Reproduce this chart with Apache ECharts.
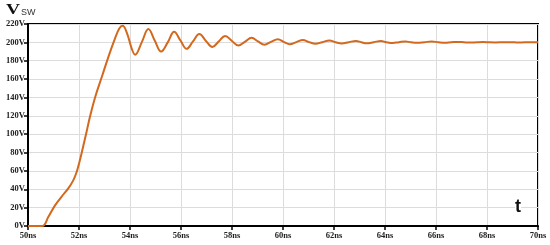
<!DOCTYPE html>
<html>
<head>
<meta charset="utf-8">
<script src="https://cdn.jsdelivr.net/npm/echarts@6/dist/echarts.min.js"></script>
<style>
  html, body { margin: 0; padding: 0; background: #fff; }
  #main { width: 550px; height: 245px; }
</style>
</head>
<body>
<div id="main"></div>
<script>
// 时间 (ns)
var timeNs = [50, 50.56, 50.8, 51.06, 51.32, 51.58, 51.78, 51.91, 52.01, 52.1, 52.2, 52.3, 52.43, 52.63,
  52.89, 53.15, 53.41, 53.58, 53.71, 53.87, 54.07, 54.2, 54.46, 54.72, 54.97, 55.22, 55.48, 55.73,
  55.98, 56.22, 56.47, 56.72, 56.98, 57.23, 57.48, 57.73, 58.0, 58.25, 58.5, 58.77, 59.02, 59.27,
  59.53, 59.8, 60.03, 60.27, 60.52, 60.78, 61.02, 61.27, 61.54, 61.82, 62.06, 62.3, 62.58, 62.86,
  63.07, 63.28, 63.56, 63.84, 64.05, 64.3, 64.55, 64.8, 65.02, 65.25, 65.54, 65.83, 66.1, 66.35,
  66.6, 66.85, 67.1, 67.35, 67.6, 67.85, 68.1, 68.35, 68.6, 68.85, 69.1, 69.35, 69.6, 70];
// 电压 Vsw (V)
var vsw = [0, 0, 10, 22.5, 32, 41, 50, 59, 69, 79, 91, 103, 119, 140,
  162, 184, 204, 215, 218, 211, 193, 186.5, 200, 214.5, 202, 190, 200, 211.5,
  202, 193, 201, 209, 201.5, 195, 201, 207, 201.5, 196.5, 200.5, 205, 201, 197.5,
  200.5, 203.5, 200.5, 198, 200.3, 202.5, 200.3, 198.5, 200.2, 202, 200.2, 198.8, 200.2, 201.5,
  200.2, 199, 200.2, 201.5, 200.2, 199.3, 200.2, 201, 200.1, 199.5, 200.1, 201, 200.1, 199.6,
  200.1, 200.5, 200.1, 199.8, 200.1, 200.3, 200, 199.9, 200.1, 200.2, 200, 199.9, 200.1, 200];
var xTicks = [50, 52, 54, 56, 58, 60, 62, 64, 66, 68, 70];
var yTicks = [0, 20, 40, 60, 80, 100, 120, 140, 160, 180, 200, 220];

var points = timeNs.map(function (t, i) { return [t, vsw[i]]; });

var myChart = echarts.init(document.getElementById('main'));
var option = {
  animation: false,
  graphic: [
    { type: 'text', x: 6, y: 3, scaleX: 1.3, style: { text: 'V', font: 'bold 15px "Liberation Serif"', fill: '#111' } },
    { type: 'text', x: 21, y: 8, style: { text: 'SW', font: '9px "Liberation Sans"', fill: '#333' } },
    { type: 'text', x: 515, y: 198, z: 100,
      style: { text: 't', font: 'bold 18px "Liberation Sans"', fill: '#111', backgroundColor: '#fff' } }
  ],
  grid: {
    left: 28, right: 12, top: 24, bottom: 19,
    show: true, borderColor: '#000', borderWidth: 2, backgroundColor: '#fff'
  },
  xAxis: {
    type: 'value',
    min: xTicks[0], max: xTicks[xTicks.length - 1], interval: 2,
    axisLine: { show: true, lineStyle: { color: '#000', width: 2 } },
    axisTick: { show: true, length: 4, lineStyle: { color: '#000', width: 1.5 } },
    axisLabel: {
      margin: 5,
      fontFamily: 'Liberation Serif', fontWeight: 'bold', fontSize: 8.5, color: '#222',
      formatter: function (v) { return v + 'ns'; }
    },
    splitLine: { show: true, lineStyle: { color: '#dcdcdc', width: 1 } }
  },
  yAxis: {
    type: 'value',
    min: yTicks[0], max: yTicks[yTicks.length - 1], interval: 20,
    axisLine: { show: true, lineStyle: { color: '#000', width: 2 } },
    axisTick: { show: true, length: 4, lineStyle: { color: '#000', width: 1.5 } },
    axisLabel: {
      margin: 3,
      fontFamily: 'Liberation Serif', fontWeight: 'bold', fontSize: 8.5, color: '#222',
      formatter: function (v) { return v + 'V'; }
    },
    splitLine: { show: true, lineStyle: { color: '#dcdcdc', width: 1 } }
  },
  series: [{
    type: 'line',
    data: points,
    smooth: 0.4,
    showSymbol: false,
    lineStyle: { color: '#d2691e', width: 2 },
    itemStyle: { color: '#d2691e' }
  }]
};
myChart.setOption(option);
</script>
</body>
</html>
